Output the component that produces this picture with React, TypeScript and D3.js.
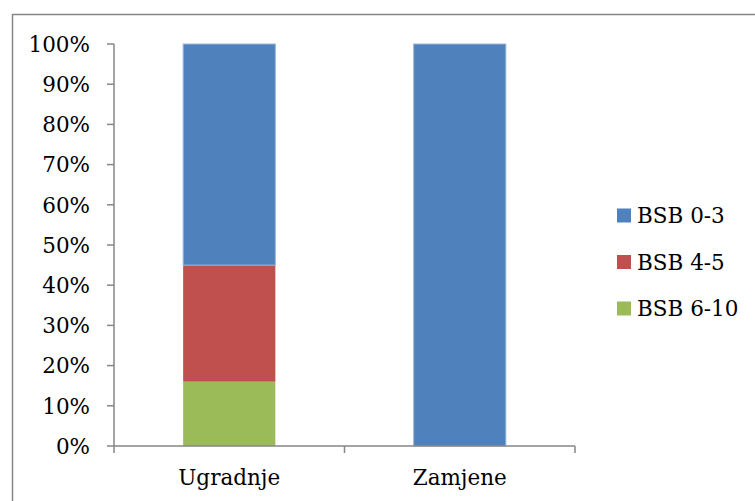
import React from 'react';
import * as d3 from 'd3';

const categories = ['Ugradnje', 'Zamjene'];
const seriesNames = ['BSB 0-3', 'BSB 4-5', 'BSB 6-10'];
const bsb03 = [55, 100];
const bsb45 = [29, 0];
const bsb610 = [16, 0];
const colors = ['#4f81bd', '#c0504d', '#9bbb59'];
const yTicks = [0, 10, 20, 30, 40, 50, 60, 70, 80, 90, 100];

const width = 755;
const height = 501;
const plot = { left: 114, right: 575, top: 44, bottom: 446 };
// no Times-like face is installed here, DejaVu Serif is the closest serif
const textStyle = { fontFamily: "'DejaVu Serif', serif", fontSize: '21.5px' };
const axisColor = '#868686';

export default function App() {
  const x = d3.scaleBand().domain(categories).range([plot.left, plot.right]).paddingInner(0).paddingOuter(0);
  const y = d3.scaleLinear().domain([0, 100]).range([plot.bottom, plot.top]);
  const barW = x.bandwidth() * 0.4;

  const rows = categories.map((c, i) => ({
    cat: c,
    'BSB 6-10': bsb610[i],
    'BSB 4-5': bsb45[i],
    'BSB 0-3': bsb03[i],
  }));
  // stack from the bottom: green, red, blue
  const stack = d3.stack<any>().keys(['BSB 6-10', 'BSB 4-5', 'BSB 0-3'])(rows);
  const colorOf = (k: string) => colors[seriesNames.indexOf(k)];

  const bounds = [...categories.map((c) => x(c) as number), plot.right];

  return (
    <svg width={width} height={height} style={{ position: 'absolute', left: 0, top: 0, background: '#fff' }}>
      <rect x={12.5} y={14.5} width={780} height={520} fill="none" stroke={axisColor} strokeWidth={1.5} />

      {stack.map((layer) =>
        layer.map((d, i) => {
          const h = y(d[0]) - y(d[1]);
          if (h <= 0) return null;
          const bx = (x(categories[i]) as number) + (x.bandwidth() - barW) / 2;
          return (
            <rect
              key={layer.key + i}
              x={bx}
              y={y(d[1])}
              width={barW}
              height={h}
              fill={colorOf(layer.key)}
              stroke={layer.key === 'BSB 0-3' ? '#9db7d9' : 'none'}
              strokeWidth={layer.key === 'BSB 0-3' ? 1 : 0}
            />
          );
        })
      )}

      {/* y axis */}
      <line x1={plot.left} x2={plot.left} y1={plot.top} y2={plot.bottom} stroke={axisColor} strokeWidth={1.5} />
      {yTicks.map((t) => (
        <g key={t}>
          <line x1={plot.left - 7} x2={plot.left} y1={y(t)} y2={y(t)} stroke={axisColor} strokeWidth={1.5} />
          <text x={90} y={y(t)} dy="0.36em" textAnchor="end" style={textStyle} fill="#000">
            {t}%
          </text>
        </g>
      ))}

      {/* x axis */}
      <line x1={plot.left} x2={plot.right} y1={plot.bottom} y2={plot.bottom} stroke={axisColor} strokeWidth={1.5} />
      {bounds.map((b, i) => (
        <line key={i} x1={b} x2={b} y1={plot.bottom} y2={plot.bottom + 7} stroke={axisColor} strokeWidth={1.5} />
      ))}
      {categories.map((c) => (
        <text key={c} x={(x(c) as number) + x.bandwidth() / 2} y={485} textAnchor="middle" style={textStyle} fill="#000">
          {c}
        </text>
      ))}

      {/* legend */}
      {seriesNames.map((s, i) => {
        const cy = 215.5 + i * 46.5;
        return (
          <g key={s}>
            <rect x={617} y={cy - 7} width={14} height={14} fill={colors[i]} />
            <text x={637} y={cy} dy="0.36em" style={textStyle} fill="#000">
              {s}
            </text>
          </g>
        );
      })}
    </svg>
  );
}
